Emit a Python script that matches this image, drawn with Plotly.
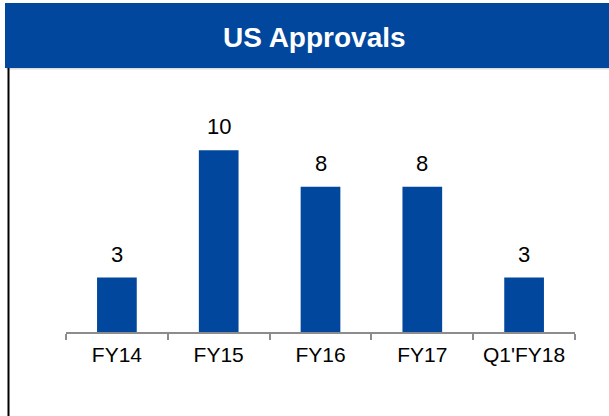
import plotly.graph_objects as go

categories = ["FY14", "FY15", "FY16", "FY17", "Q1'FY18"]
approvals = [3, 10, 8, 8, 3]
title_text = "US Approvals"

W, H = 609, 416
L, R, T, B = 66, 34, 114, 84
pw, ph = W - L - R, H - T - B

def px(x):
    return (x - L) / pw

def py(y):
    return (H - B - y) / ph

blue = "#00479D"
font_family = "Liberation Sans, Arial"

fig = go.Figure(go.Bar(
    x=categories, y=approvals, width=0.39,
    marker=dict(color=blue, line=dict(width=0)),
    hoverinfo="x+y",
))

annotations = [
    dict(x=c, y=v, xref="x", yref="y", text=str(v), showarrow=False,
         xanchor="center", yanchor="bottom", yshift=9,
         font=dict(size=22, color="#000000", family=font_family))
    for c, v in zip(categories, approvals)
]
annotations.append(
    dict(text="<b>" + title_text + "</b>", xref="paper", yref="paper",
         x=px(314), y=py(37), xanchor="center", yanchor="middle",
         showarrow=False, font=dict(size=28, color="white", family=font_family))
)

fig.update_layout(
    width=W, height=H,
    margin=dict(l=L, r=R, t=T, b=B),
    paper_bgcolor="white", plot_bgcolor="white",
    showlegend=False,
    font=dict(family=font_family, color="#000000"),
    xaxis=dict(
        showline=True, linecolor="#8c8c8c", linewidth=1.5,
        ticks="outside", tickson="boundaries", ticklen=6, tickcolor="#8c8c8c", tickwidth=1.5,
        tickfont=dict(size=21, color="#000000"), showgrid=False,
        ticklabelstandoff=3,
    ),
    yaxis=dict(range=[0, 12], visible=False, showgrid=False, zeroline=False),
    shapes=[
        dict(type="rect", xref="paper", yref="paper",
             x0=px(6), x1=px(611), y0=py(69.5), y1=py(4),
             fillcolor="#dcdcdc", line=dict(width=0), layer="below"),
        dict(type="rect", xref="paper", yref="paper",
             x0=px(5), x1=px(610), y0=py(68), y1=py(3),
             fillcolor=blue, line=dict(width=0)),
        dict(type="line", xref="paper", yref="paper",
             x0=px(8.5), x1=px(8.5), y0=py(417), y1=py(68),
             line=dict(color="#000000", width=2)),
    ],
    annotations=annotations,
)

fig.write_html("out.html", config={"displayModeBar": False},
               post_script="document.body.style.margin='0';document.body.style.overflow='hidden';")
